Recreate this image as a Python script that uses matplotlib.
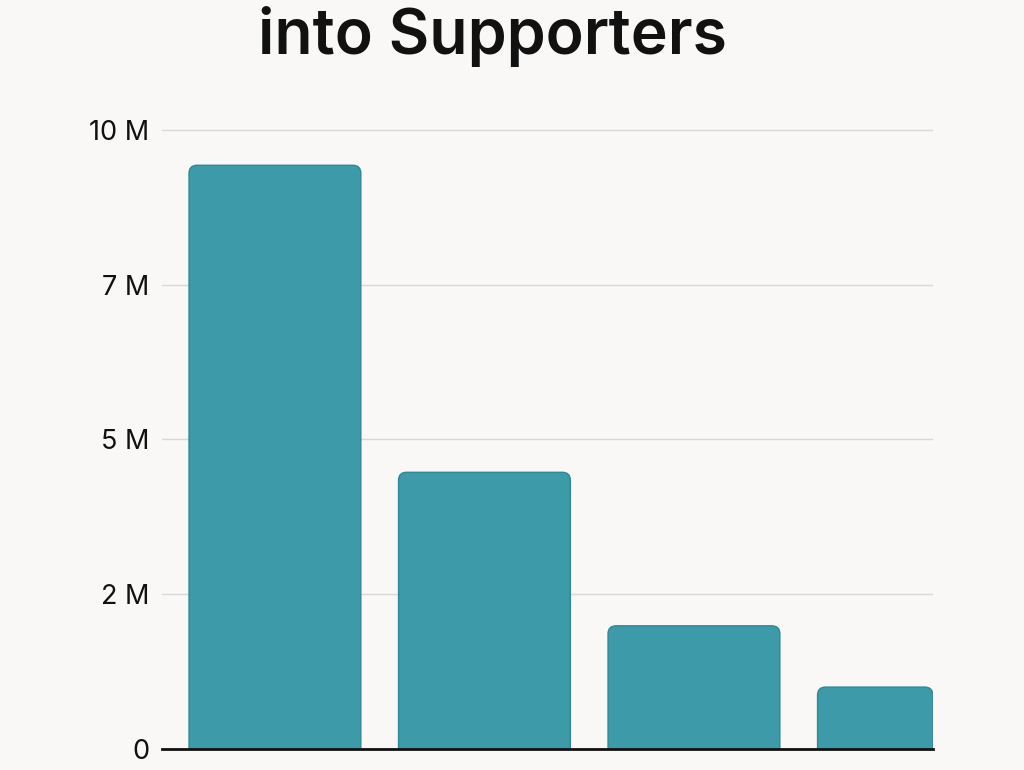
import matplotlib
matplotlib.use('Agg')
import matplotlib.pyplot as plt
from matplotlib.patches import FancyBboxPatch

# values in millions
categories = ['Stage 1', 'Stage 2', 'Stage 3', 'Stage 4']
values = [9.43, 4.47, 1.99, 1.0]
tick_values = [0, 2.5, 5, 7.5, 10]
tick_labels = ['0', '2 M', '5 M', '7 M', '10 M']

BG = '#f9f8f6'
BAR = '#3c9aa9'
EDGE = '#2f8896'

plt.rcParams['font.family'] = ['Inter', 'DejaVu Sans']

fig = plt.figure(figsize=(10.24, 7.7), dpi=100, facecolor=BG)
ax = fig.add_axes([162 / 1024, 1 - 749 / 770, (933 - 162) / 1024, (749 - 117.6) / 770])
ax.set_facecolor(BG)

ax.set_xlim(-0.539, 3.141)
ax.set_ylim(0, 10.2)

# pixel scale -> aspect for rounded corners
px_x = 1 / 209.5
px_y = 1 / 61.9
radius = 8 * px_x
for i, v in enumerate(values):
    w = 0.82 if i < 3 else 0.55
    left = i - 0.41
    box = FancyBboxPatch((left, -1), w, v + 1,
                         boxstyle=f'round,pad=0,rounding_size={radius}',
                         mutation_aspect=px_y / px_x,
                         facecolor=BAR, edgecolor=EDGE, linewidth=1, zorder=2)
    ax.add_patch(box)

ax.set_yticks(tick_values)
ax.set_yticklabels(tick_labels, fontsize=19.5, color='#111111')
ax.tick_params(axis='y', length=0, pad=9)
ax.set_xticks([])
ax.grid(axis='y', color='#d8d8d8', linewidth=1, zorder=0)
ax.set_axisbelow(True)
for s in ['top', 'right', 'left']:
    ax.spines[s].set_visible(False)
ax.spines['bottom'].set_color('#111111')
ax.spines['bottom'].set_linewidth(2)
ax.spines['bottom'].set_zorder(3)

fig.text(493 / 1024, 1 - 54 / 770, 'into Supporters', ha='center', va='baseline',
         fontsize=45, fontweight='semibold', color='#111111')

fig.savefig('out.png', dpi=100, facecolor=BG)
